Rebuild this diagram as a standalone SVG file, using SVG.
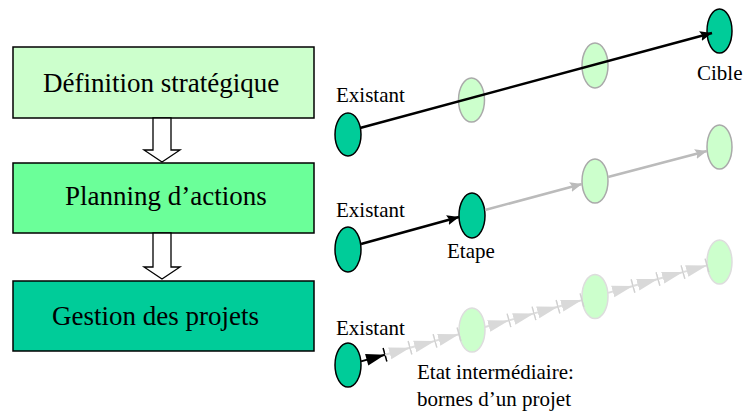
<svg xmlns="http://www.w3.org/2000/svg" width="745" height="412" viewBox="0 0 745 412">
<style>
.box{stroke:#000;stroke-width:1.5}
.lbl{font-family:"Liberation Serif","Times New Roman",serif;fill:#000}
.big{font-size:27px}
.sm{font-size:21px}
.dark{fill:#00CC99;stroke:#000;stroke-width:1.5}
.light{fill:#CCFFCC;stroke:#AAAAAA;stroke-width:1.5}
.faint{fill:#CCFFCC;stroke:#DDDDDD;stroke-width:1.5}
.hollow{fill:#fff;stroke:#000;stroke-width:1.3}
.blk{stroke:#000;stroke-width:2.5;fill:none}
.gry{stroke:#BBBBBB;stroke-width:2.5;fill:none}
.chn{stroke:#DDDDDD;stroke-width:2;fill:none}
.chk{stroke:#000;stroke-width:2;fill:none}
</style>
<defs>
<marker id="ab" markerUnits="userSpaceOnUse" viewBox="0 0 12 10" markerWidth="12" markerHeight="10" refX="12" refY="5" orient="auto">
<path d="M0,0 L12,5 L0,10 L2,5 z" fill="#000"/>
</marker>
<marker id="ag" markerUnits="userSpaceOnUse" viewBox="0 0 12 10" markerWidth="12" markerHeight="10" refX="12" refY="5" orient="auto">
<path d="M0,0 L12,5 L0,10 L2,5 z" fill="#BBBBBB"/>
</marker>
<marker id="cg" markerUnits="userSpaceOnUse" viewBox="0 0 22 16" markerWidth="22" markerHeight="16" refX="21" refY="8" orient="auto">
<path d="M0,2 L21,8 L0,14 z" fill="#D9D9D9"/>
<path d="M21,1 L21,15" stroke="#D0D0D0" stroke-width="1.5"/>
</marker>
<marker id="cb" markerUnits="userSpaceOnUse" viewBox="0 0 22 16" markerWidth="22" markerHeight="16" refX="21" refY="8" orient="auto">
<path d="M2,2 L21,8 L2,14 z" fill="#000"/>
<path d="M21,1 L21,15" stroke="#000" stroke-width="1.5"/>
</marker>
</defs>

<g id="box-definition">
<rect class="box" x="13" y="47" width="301" height="71" fill="#CCFFCC"/>
<text class="lbl big" x="43" y="92">Définition stratégique</text>
</g>
<g id="box-planning">
<rect class="box" x="13" y="163" width="301" height="70" fill="#6BFF99"/>
<text class="lbl big" x="65" y="205">Planning d’actions</text>
</g>
<g id="box-gestion">
<rect class="box" x="13" y="281" width="301" height="70" fill="#00CC99"/>
<text class="lbl big" x="52" y="325">Gestion des projets</text>
</g>

<g id="r1-existant"><ellipse class="dark" cx="348" cy="134.5" rx="13" ry="21.5"/><text class="lbl sm" x="336" y="102">Existant</text></g>
<g id="r1-m1"><ellipse class="light" cx="471.5" cy="100" rx="13" ry="22"/></g>
<g id="r1-m2"><ellipse class="light" cx="595" cy="65.5" rx="13" ry="22.5"/></g>
<g id="r1-cible"><ellipse class="dark" cx="719.5" cy="31" rx="12.5" ry="22"/><text class="lbl sm" x="697" y="80">Cible</text></g>

<g id="r2-existant"><ellipse class="dark" cx="348" cy="249.5" rx="13" ry="22.5"/><text class="lbl sm" x="336" y="217">Existant</text></g>
<g id="r2-etape"><ellipse class="dark" cx="472" cy="215.5" rx="13" ry="22.5"/><text class="lbl sm" x="447" y="258">Etape</text></g>
<g id="r2-m2"><ellipse class="light" cx="595" cy="181" rx="13" ry="22"/></g>
<g id="r2-m3"><ellipse class="light" cx="719.5" cy="147" rx="12.5" ry="22"/></g>

<g id="r3-existant"><ellipse class="dark" cx="348" cy="365" rx="13" ry="22"/><text class="lbl sm" x="336" y="335">Existant</text></g>
<g id="r3-m1"><ellipse class="faint" cx="472" cy="330" rx="13" ry="22"/></g>
<g id="r3-m2"><ellipse class="faint" cx="595" cy="296.5" rx="13" ry="22"/></g>
<g id="r3-m3"><ellipse class="faint" cx="719.5" cy="262" rx="12.5" ry="22"/></g>
<g id="r3-note"><text class="lbl sm" x="417" y="379">Etat intermédiaire:</text><text class="lbl sm" x="417" y="406">bornes d’un projet</text></g>

<g id="connectors">
<path class="hollow" d="M153,118 L171,118 L171,150 L180,150 L162,162 L144,150 L153,150 z"/>
<path class="hollow" d="M153,233 L171,233 L171,267 L180,267 L162,279 L144,267 L153,267 z"/>
<path class="blk" d="M360,128 L712,33" marker-end="url(#ab)"/>
<path class="blk" d="M361,244 L459,217" marker-end="url(#ab)"/>
<path class="gry" d="M485,210 L582,184" marker-end="url(#ag)"/>
<path class="gry" d="M608,177 L707,151" marker-end="url(#ag)"/>
<path class="chk" d="M361,361.4 L385,354.7" marker-end="url(#cb)"/>
<path class="chn" d="M385,354.7 L410,347.8" marker-end="url(#cg)"/>
<path class="chn" d="M410,347.8 L435,340.9" marker-end="url(#cg)"/>
<path class="chn" d="M435,340.9 L459,334.2" marker-end="url(#cg)"/>
<path class="chn" d="M485,327 L509,320.4" marker-end="url(#cg)"/>
<path class="chn" d="M509,320.4 L534,313.4" marker-end="url(#cg)"/>
<path class="chn" d="M534,313.4 L558,306.8" marker-end="url(#cg)"/>
<path class="chn" d="M558,306.8 L582,300.1" marker-end="url(#cg)"/>
<path class="chn" d="M608,292.9 L633,286" marker-end="url(#cg)"/>
<path class="chn" d="M633,286 L658,279" marker-end="url(#cg)"/>
<path class="chn" d="M658,279 L683,272.1" marker-end="url(#cg)"/>
<path class="chn" d="M683,272.1 L707,265.4" marker-end="url(#cg)"/>
</g>
</svg>
